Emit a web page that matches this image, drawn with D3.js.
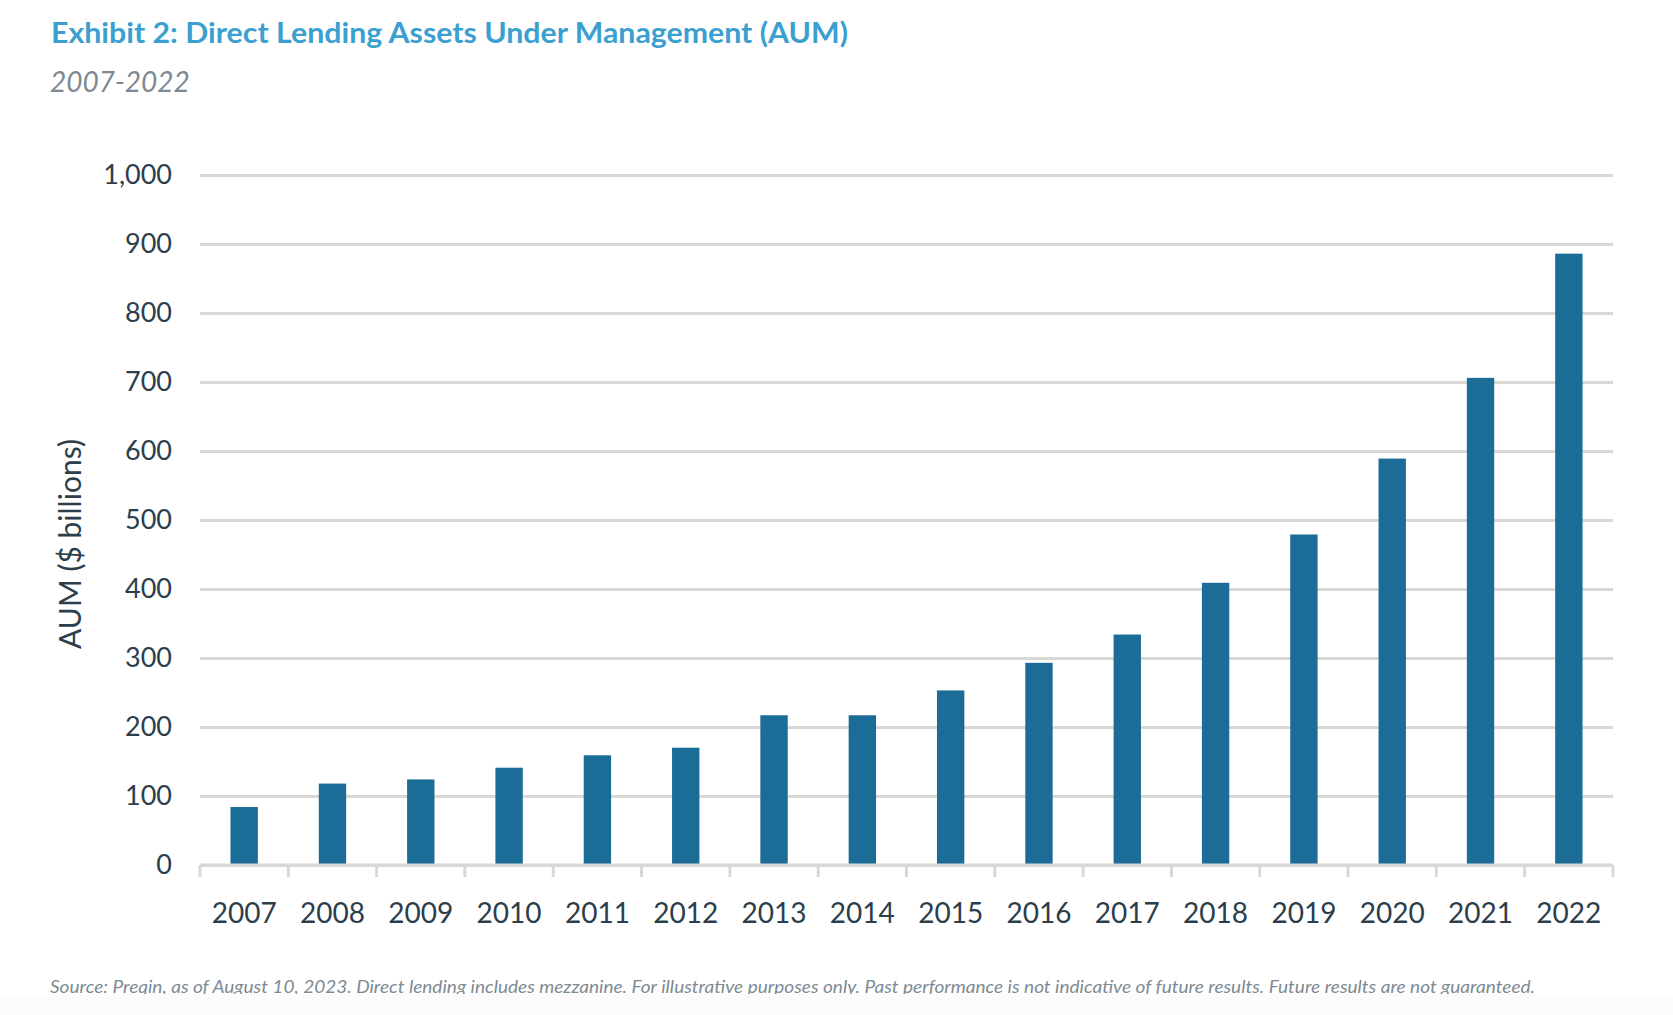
<!DOCTYPE html>
<html>
<head>
<meta charset="utf-8">
<script src="https://cdn.jsdelivr.net/npm/d3@7"></script>
<style>
  body { margin: 0; background: #fff; }
  text { font-family: Lato, "Open Sans", sans-serif; }
</style>
</head>
<body>
<div id="chart"></div>
<script>
// data ($ billions)
var years = ["2007", "2008", "2009", "2010", "2011", "2012", "2013", "2014",
             "2015", "2016", "2017", "2018", "2019", "2020", "2021", "2022"];
var aum = [84, 118, 124, 141, 159, 170, 217, 217, 253, 293, 334, 409, 479, 589, 706, 886];
var yTicks = [0, 100, 200, 300, 400, 500, 600, 700, 800, 900, 1000];

var title = "Exhibit 2: Direct Lending Assets Under Management (AUM)";
var subtitle = "2007-2022";
var yLabel = "AUM ($ billions)";
var source = "Source: Preqin, as of August 10, 2023. Direct lending includes mezzanine. For illustrative purposes only. Past performance is not indicative of future results. Future results are not guaranteed.";

var W = 1673, H = 1015;
var margin = {top: 175, right: 60, bottom: 150, left: 200},
    width = W - margin.left - margin.right,
    height = H - margin.top - margin.bottom;

var svg = d3.select("#chart")
  .append("svg")
    .attr("width", W)
    .attr("height", H);

// title + subtitle
svg.append("text")
    .attr("x", 51)
    .attr("y", 43)
    .attr("font-size", 29)
    .attr("font-weight", 700)
    .attr("fill", "#3b9fd0")
    .attr("textLength", 797)
    .attr("lengthAdjust", "spacingAndGlyphs")
    .text(title);

svg.append("text")
    .attr("x", 50)
    .attr("y", 92)
    .attr("font-size", 28)
    .attr("font-style", "italic")
    .attr("fill", "#7d8a93")
    .text(subtitle);

var g = svg.append("g")
    .attr("transform", "translate(" + margin.left + "," + margin.top + ")");

// scales
var x = d3.scaleBand()
    .domain(years)
    .range([0, width])
    .paddingInner(0.69)
    .paddingOuter(0.345);

var y = d3.scaleLinear()
    .domain([0, 1000])
    .range([height, 0]);

// y axis with gridlines
var yAxis = g.append("g")
    .call(d3.axisLeft(y)
      .tickValues(yTicks)
      .tickSize(-width)
      .tickPadding(28)
      .tickFormat(d3.format(",")));

yAxis.select(".domain").remove();
yAxis.selectAll(".tick line")
    .attr("stroke", "#d9d8d4")
    .attr("stroke-width", 3);
yAxis.selectAll(".tick text")
    .attr("font-size", 27)
    .attr("fill", "#2c3e4c")
    .attr("font-family", "Lato, sans-serif");

// bars
g.selectAll(".bar")
  .data(aum)
  .enter()
  .append("rect")
    .attr("class", "bar")
    .attr("x", function(d, i) { return x(years[i]); })
    .attr("width", x.bandwidth())
    .attr("y", function(d) { return y(d); })
    .attr("height", function(d) { return y(0) - y(d); })
    .attr("fill", "#1b6d98");

// x axis: baseline, category-boundary ticks, labels
var edge = (x.step() - x.bandwidth()) / 2;
var bounds = years.map(function(d) { return x(d) - edge; });
bounds.push(width);

g.append("line")
    .attr("x1", 0).attr("x2", width)
    .attr("y1", height).attr("y2", height)
    .attr("stroke", "#d9d8d4")
    .attr("stroke-width", 3);

g.selectAll(".xtick")
  .data(bounds)
  .enter()
  .append("line")
    .attr("x1", function(d) { return d; })
    .attr("x2", function(d) { return d; })
    .attr("y1", height)
    .attr("y2", height + 12)
    .attr("stroke", "#d9d8d4")
    .attr("stroke-width", 3);

g.selectAll(".xlabel")
  .data(years)
  .enter()
  .append("text")
    .attr("x", function(d) { return x(d) + x.bandwidth() / 2; })
    .attr("y", height + 58)
    .attr("text-anchor", "middle")
    .attr("font-size", 28)
    .attr("fill", "#2c3e4c")
    .text(function(d) { return d; });

// y axis title
svg.append("text")
    .attr("transform", "translate(81,544) rotate(-90)")
    .attr("text-anchor", "middle")
    .attr("font-size", 30)
    .attr("fill", "#2c3e4c")
    .text(yLabel);

// source note, cut at the bottom like the exhibit
svg.append("defs").append("clipPath")
    .attr("id", "cut")
  .append("rect")
    .attr("x", 0).attr("y", 0)
    .attr("width", W).attr("height", 994);

svg.append("text")
    .attr("clip-path", "url(#cut)")
    .attr("x", 50)
    .attr("y", 993)
    .attr("font-size", 18)
    .attr("font-style", "italic")
    .attr("fill", "#7d8a93")
    .attr("textLength", 1485)
    .attr("lengthAdjust", "spacingAndGlyphs")
    .text(source);

svg.append("rect")
    .attr("x", 0).attr("y", 994)
    .attr("width", W).attr("height", H - 994)
    .attr("fill", "#fcfcfc");
</script>
</body>
</html>
